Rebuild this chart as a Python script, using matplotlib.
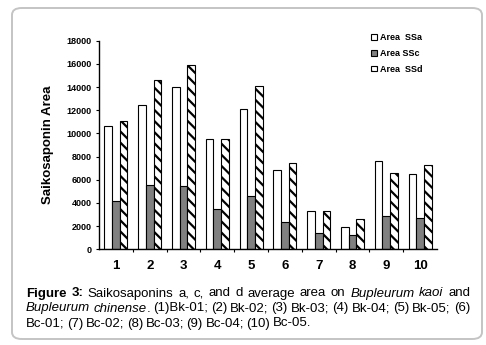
import numpy as np
import matplotlib.pyplot as plt
from matplotlib.patches import FancyBboxPatch

plt.rcParams["font.family"] = ["Liberation Sans", "DejaVu Sans"]
plt.rcParams["hatch.linewidth"] = 1.6

samples = ["1", "2", "3", "4", "5", "6", "7", "8", "9", "10"]
area_ssa = [10600, 12420, 13980, 9490, 12080, 6820, 3280, 1900, 7590, 6470]
area_ssc = [4140, 5520, 5440, 3450, 4570, 2330, 1380, 1210, 2850, 2670]
area_ssd = [11040, 14610, 15880, 9540, 14060, 7420, 3330, 2590, 6560, 7250]
series_names = ["Area  SSa", "Area SSc", "Area  SSd"]

W, H = 486, 345
fig = plt.figure(figsize=(W / 100, H / 100), dpi=100)

# rounded frame around the whole figure
frame = FancyBboxPatch((12 / W, 1 - 339 / H), 470 / W, 331 / H,
                       boxstyle="round,pad=0,rounding_size=0.02",
                       transform=fig.transFigure, fill=False,
                       edgecolor="#c4c4c4", linewidth=1.4)
fig.patches.append(frame)

ax = fig.add_axes([99 / W, 1 - 249.3 / H, 338 / W, 208.6 / H])

x = np.arange(1, len(samples) + 1)
w = 0.228
ax.bar(x - w, area_ssa, w, color="white", edgecolor="black", linewidth=0.8,
       label=series_names[0])
ax.bar(x, area_ssc, w, color="#808080", edgecolor="black", linewidth=0.8,
       label=series_names[1])
ax.bar(x + w, area_ssd, w, color="white", edgecolor="black", linewidth=0.8,
       hatch="\\\\\\", label=series_names[2])

ax.set_xlim(0.5, 10.5)
ax.set_ylim(0, 18000)
ax.set_yticks(np.arange(0, 18001, 2000))
ax.tick_params(axis="y", labelsize=6.5, length=2.5, width=0.8, pad=3)
for lbl in ax.get_yticklabels():
    lbl.set_fontweight("bold")

ax.set_xticks(x)
ax.set_xticklabels(samples, fontsize=9.5, fontweight="bold")
ax.tick_params(axis="x", length=0, pad=8)
ax.set_xticks(np.arange(1.5, 10.5, 1), minor=True)
ax.tick_params(axis="x", which="minor", length=2, width=0.8)

for side in ["top", "right"]:
    ax.spines[side].set_visible(False)
for side in ["left", "bottom"]:
    ax.spines[side].set_linewidth(1.0)

ax.set_ylabel("Saikosaponin Area", fontsize=9.5, fontweight="bold", labelpad=9)

leg = ax.legend(loc="upper left", bbox_to_anchor=(264 / 338, 1.075),
                frameon=False, handlelength=0.6,
                handleheight=0.6, handletextpad=0.35, labelspacing=0.75,
                prop={"weight": "bold", "size": 6.5})

# caption, each line spread between the margins
styles = {
    "b": dict(fontweight="bold"),
    "n": dict(),
    "i": dict(fontstyle="italic"),
}
caption = [
    [[("Figure", "b")], [("3:", "b")], [("Saikosaponins", "n")], [("a,", "n")],
     [("c,", "n")], [("and", "n")], [("d", "n")], [("average", "n")],
     [("area", "n")], [("on", "n")], [("Bupleurum", "i")], [("kaoi", "i")],
     [("and", "n")]],
    [[("Bupleurum", "i")], [("chinense", "i"), (".", "n")], [("(1)Bk-01;", "n")],
     [("(2)", "n")], [("Bk-02;", "n")], [("(3)", "n")], [("Bk-03;", "n")],
     [("(4)", "n")], [("Bk-04;", "n")], [("(5)", "n")], [("Bk-05;", "n")],
     [("(6)", "n")]],
    [[("Bc-01;", "n")], [("(7)", "n")], [("Bc-02;", "n")], [("(8)", "n")],
     [("Bc-03;", "n")], [("(9)", "n")], [("Bc-04;", "n")], [("(10)", "n")],
     [("Bc-05.", "n")]],
]
cap_left = 26
line_ends = [470, 470, 311]
baselines = [296.5, 311.5, 326.5]
cap_size = 9.5

fig.canvas.draw()
renderer = fig.canvas.get_renderer()


def make_text(s, style, px, py):
    return fig.text(px / W, 1 - py / H, s, fontsize=cap_size, va="baseline",
                    ha="left", **styles[style])


def text_width(s, style):
    t = make_text(s, style, 100, 100)
    wd = t.get_window_extent(renderer).width
    t.remove()
    return wd


for tokens, right, base in zip(caption, line_ends, baselines):
    widths = [[text_width(s, st) for s, st in tok] for tok in tokens]
    total = sum(sum(tw) for tw in widths)
    gap = (right - cap_left - total) / (len(tokens) - 1)
    px = cap_left
    for tok, tw in zip(tokens, widths):
        cx = px
        for (s, st), ww in zip(tok, tw):
            make_text(s, st, cx, base)
            cx += ww
        px += sum(tw) + gap

fig.savefig("out.png", dpi=100)
